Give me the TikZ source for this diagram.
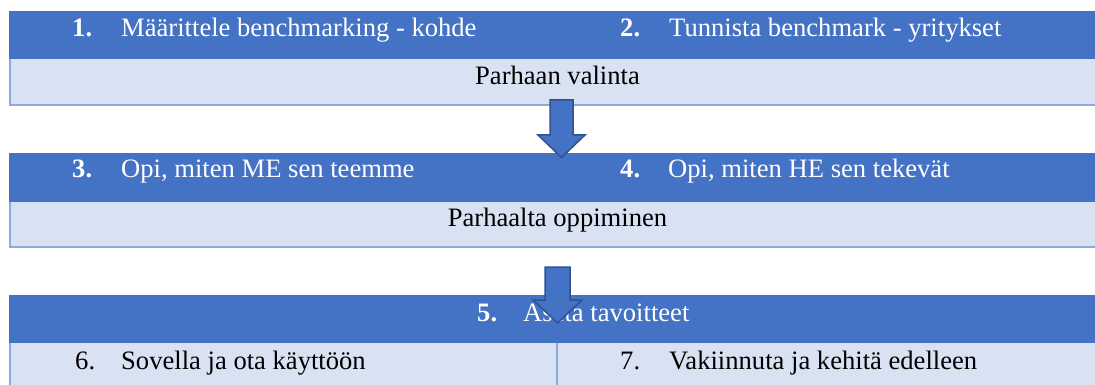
\documentclass[tikz,border=0pt]{standalone}
\usepackage{fontspec}
\setmainfont{Liberation Serif}
\definecolor{hdr}{HTML}{4472C4}
\definecolor{band}{HTML}{D9E2F3}
\definecolor{bord}{HTML}{8EAADB}
\definecolor{arrb}{HTML}{2F528F}
\tikzset{
  edge/.style={draw=bord, line width=1.6pt},
  blockarrow/.style={fill=hdr, draw=arrb, line width=1.5pt, line join=miter},
  num/.style={anchor=base west, inner sep=0pt, font=\fontsize{26.6}{31}\selectfont\bfseries, text=white},
  htxt/.style={anchor=base west, inner sep=0pt, font=\fontsize{26.6}{31}\selectfont, text=white},
  btxt/.style={anchor=base west, inner sep=0pt, font=\fontsize{26.6}{31}\selectfont, text=black},
  ctxt/.style={anchor=base, inner sep=0pt, font=\fontsize{26.6}{31}\selectfont, text=black}
}
\begin{document}
\begin{tikzpicture}[x=1pt,y=-1pt]
\useasboundingbox (0,0) rectangle (1095,385);
% table 1
\fill[hdr] (9,11) rectangle (1095,59);
\fill[band] (9,59) rectangle (1095,106);
\draw[edge] (9.8,59) -- (9.8,105.2) -- (1095,105.2);
\node[num] (n1) at (72,37) {1.};
\node[htxt] (t1) at (121,37) {Määrittele benchmarking - kohde};
\node[num] (n2) at (620,37) {2.};
\node[htxt] (t2) at (669,37) {Tunnista benchmark - yritykset};
\node[ctxt] (c1) at (557.5,85) {Parhaan valinta};
% table 2
\fill[hdr] (9,153) rectangle (1095,202);
\fill[band] (9,202) rectangle (1095,248);
\draw[edge] (9.8,202) -- (9.8,247.2) -- (1095,247.2);
\node[num] (n3) at (72,178) {3.};
\node[htxt] (t3) at (121,178) {Opi, miten ME sen teemme};
\node[num] (n4) at (620,178) {4.};
\node[htxt] (t4) at (668,178) {Opi, miten HE sen tekevät};
\node[ctxt] (c2) at (557.5,226) {Parhaalta oppiminen};
% table 3
\fill[hdr] (9,295) rectangle (1095,343);
\fill[band] (9,343) rectangle (1095,385);
\draw[edge] (9.8,343) -- (9.8,385);
\draw[edge] (557,343) -- (557,385);
\node[num] (n5) at (477,321) {5.};
\node[htxt] (t5) at (523,321) {Aseta tavoitteet};
\node[btxt] (n6) at (75,369) {6.};
\node[btxt] (t6) at (121,369) {Sovella ja ota käyttöön};
\node[btxt] (n7) at (620,369) {7.};
\node[btxt] (t7) at (669,369) {Vakiinnuta ja kehitä edelleen};
% arrows
\draw[blockarrow] (550,100) -- (573,100) -- (573,135) -- (585,135) -- (561.5,157.5) -- (538,135) -- (550,135) -- cycle;
\draw[blockarrow] (545,267) -- (570,267) -- (570,300) -- (582,300) -- (557.5,323) -- (533,300) -- (545,300) -- cycle;
\end{tikzpicture}
\end{document}
